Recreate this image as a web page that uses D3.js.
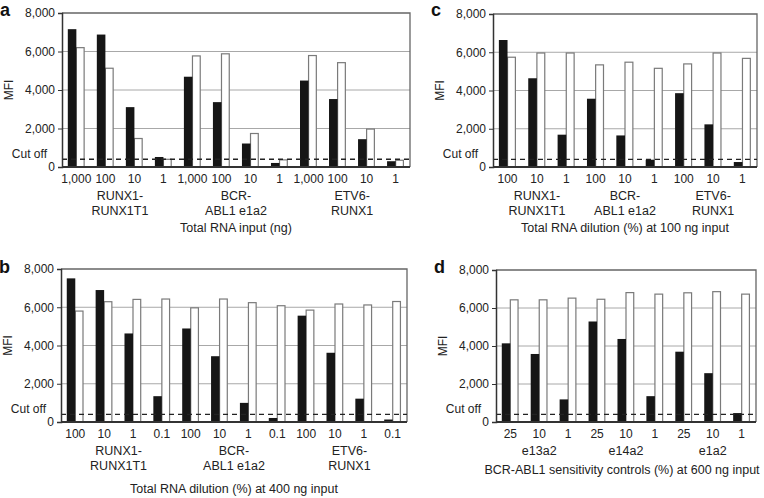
<html>
  <head>
    <script src="https://cdn.jsdelivr.net/npm/d3@7"></script>
    <style>
      body { margin: 0; background: #fff; }
      svg { display: block; font-family: "Liberation Sans", Arial, sans-serif; }
    </style>
  </head>
  <body>
    <div id="chart"></div>
    <script>
      // values (MFI)
      const cutoff = 400;
      const yTicks = [0, 2000, 4000, 6000, 8000];

      const aTicks = ["1,000", "100", "10", "1", "1,000", "100", "10", "1", "1,000", "100", "10", "1"];
      const aTarget = [7160, 6880, 3110, 520, 4690, 3370, 1220, 210, 4490, 3530, 1445, 300];
      const aControl = [6200, 5130, 1480, 400, 5770, 5880, 1740, 370, 5790, 5420, 1970, 350];

      const bTicks = ["100", "10", "1", "0.1", "100", "10", "1", "0.1", "100", "10", "1", "0.1"];
      const bTarget = [7510, 6900, 4630, 1350, 4890, 3440, 1000, 210, 5560, 3620, 1220, 130];
      const bControl = [5800, 6290, 6410, 6430, 5970, 6430, 6240, 6080, 5850, 6170, 6120, 6300];

      const cTicks = ["100", "10", "1", "100", "10", "1", "100", "10", "1"];
      const cTarget = [6640, 4640, 1690, 3570, 1650, 380, 3860, 2230, 260];
      const cControl = [5740, 5960, 5960, 5340, 5480, 5160, 5390, 5960, 5680];

      const dTicks = ["25", "10", "1", "25", "10", "1", "25", "10", "1"];
      const dTarget = [4140, 3580, 1190, 5290, 4370, 1360, 3700, 2570, 470];
      const dControl = [6430, 6430, 6520, 6460, 6810, 6730, 6800, 6860, 6730];

      const fusionGroups = [["RUNX1-", "RUNX1T1"], ["BCR-", "ABL1 e1a2"], ["ETV6-", "RUNX1"]];
      const controlGroups = [["e13a2"], ["e14a2"], ["e1a2"]];

      const svg = d3.select("#chart").append("svg")
        .attr("width", 764).attr("height", 498);

      function panel({ letter, letterY, left, right, top, zero, ticks, target, control, groups, title, titleY, titleX }) {
        const g = svg.append("g");
        const x = d3.scaleBand().domain(d3.range(ticks.length))
          .range([left, right]).paddingInner(0.41).paddingOuter(0.2);
        const y = d3.scaleLinear().domain([0, 8000]).range([zero, top]);
        const bw = x.bandwidth() / 2;

        // grid lines
        g.selectAll(".grid").data([2000, 4000, 6000]).join("line")
          .attr("x1", left).attr("x2", right)
          .attr("y1", d => y(d)).attr("y2", d => y(d))
          .attr("stroke", "#a8a8a8").attr("stroke-width", 1);
        // frame top + right
        g.append("path")
          .attr("d", `M${left},${y(8000)}H${right}V${zero}`)
          .attr("fill", "none").attr("stroke", "#666").attr("stroke-width", 1.3);

        // bars
        g.selectAll(".ctl").data(control).join("rect")
          .attr("x", (d, i) => x(i) + bw).attr("width", bw - 0.8)
          .attr("y", d => y(d)).attr("height", d => zero - y(d))
          .attr("fill", "#fff").attr("stroke", "#7a7a7a").attr("stroke-width", 1.2);
        g.selectAll(".tgt").data(target).join("rect")
          .attr("x", (d, i) => x(i)).attr("width", bw)
          .attr("y", d => y(d)).attr("height", d => zero - y(d))
          .attr("fill", "#161616");

        // cut off line
        g.append("line")
          .attr("x1", left).attr("x2", right)
          .attr("y1", y(cutoff)).attr("y2", y(cutoff))
          .attr("stroke", "#222").attr("stroke-width", 1.4)
          .attr("stroke-dasharray", "5,4");

        // y axis
        const ya = g.append("g").attr("transform", `translate(${left},0)`)
          .call(d3.axisLeft(y).tickValues(yTicks).tickSize(4).tickFormat(d3.format(",")));
        ya.select(".domain").attr("stroke", "#333").attr("stroke-width", 1.5);
        ya.selectAll(".tick line").attr("stroke", "#333");
        ya.selectAll(".tick text").attr("font-size", 12).attr("fill", "#222")
          .attr("font-family", "Liberation Sans, Arial, sans-serif");
        g.append("text").attr("x", left - 15).attr("y", y(cutoff) - 1)
          .attr("text-anchor", "end").attr("font-size", 12).attr("fill", "#222")
          .text("Cut off");
        g.append("text")
          .attr("transform", `translate(${left - 49},${(top + zero) / 2}) rotate(-90)`)
          .attr("text-anchor", "middle").attr("font-size", 12).attr("fill", "#222")
          .text("MFI");

        // x axis
        g.append("line").attr("x1", left).attr("x2", right)
          .attr("y1", zero).attr("y2", zero)
          .attr("stroke", "#333").attr("stroke-width", 1.8);
        g.selectAll(".xt").data(ticks).join("text")
          .attr("x", (d, i) => x(i) + x.bandwidth() / 2).attr("y", zero + 16)
          .attr("text-anchor", "middle").attr("font-size", 12).attr("fill", "#222")
          .text(d => d);

        const per = ticks.length / groups.length;
        groups.forEach((lines, k) => {
          const cx = (x(k * per) + x(k * per + per - 1) + x.bandwidth()) / 2;
          lines.forEach((t, j) => {
            g.append("text").attr("x", cx).attr("y", zero + 33 + j * 14.5)
              .attr("text-anchor", "middle").attr("font-size", 12.5).attr("fill", "#222")
              .text(t);
          });
        });
        g.append("text").attr("x", titleX ?? (left + right) / 2).attr("y", titleY)
          .attr("text-anchor", "middle").attr("font-size", 12.5).attr("fill", "#222")
          .text(title);

        g.append("text").attr("x", left - 62).attr("y", letterY)
          .attr("font-size", 18).attr("font-weight", "bold").attr("fill", "#111")
          .text(letter);
      }

      panel({ letter: "a", letterY: 16, left: 62, right: 410, top: 13, zero: 167,
        ticks: aTicks, target: aTarget, control: aControl, groups: fusionGroups,
        title: "Total RNA input (ng)", titleY: 232 });
      panel({ letter: "c", letterY: 16, left: 493, right: 757, top: 14, zero: 167,
        ticks: cTicks, target: cTarget, control: cControl, groups: fusionGroups,
        title: "Total RNA dilution (%) at 100 ng input", titleY: 232 });
      panel({ letter: "b", letterY: 273, left: 61, right: 407, top: 269, zero: 422,
        ticks: bTicks, target: bTarget, control: bControl, groups: fusionGroups,
        title: "Total RNA dilution (%) at 400 ng input", titleY: 493 });
      panel({ letter: "d", letterY: 273, left: 496, right: 756, top: 270, zero: 422,
        ticks: dTicks, target: dTarget, control: dControl, groups: controlGroups,
        title: "BCR-ABL1 sensitivity controls (%) at 600 ng input", titleY: 474, titleX: 622 });
    </script>
  </body>
</html>
